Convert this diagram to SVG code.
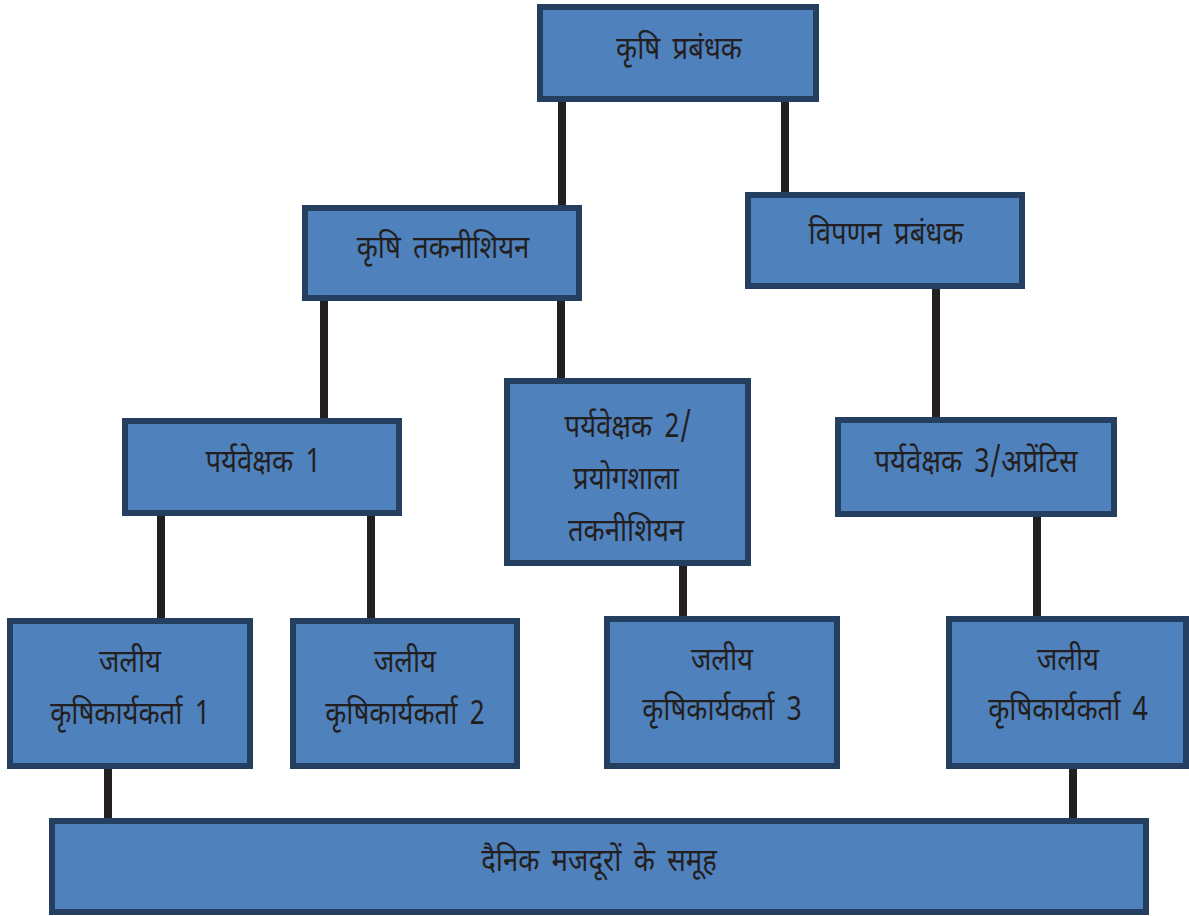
<svg xmlns="http://www.w3.org/2000/svg" width="1189" height="916" viewBox="0 0 1189 916">
<style>
.box{fill:#4f81bd;stroke:#243f60;stroke-width:6}
.t{font-family:"Noto Sans Devanagari","Noto Sans","Lohit Devanagari",sans-serif;font-size:32px;fill:#231f20;text-anchor:middle;word-spacing:6px}
.c{stroke:#231f20;stroke-width:8;fill:none}
</style>
<rect width="1189" height="916" fill="#ffffff"/>
<g id="connectors">
<line class="c" x1="562" y1="100" x2="562" y2="208"/>
<line class="c" x1="785" y1="100" x2="785" y2="195"/>
<line class="c" x1="324" y1="299" x2="324" y2="421"/>
<line class="c" x1="561" y1="299" x2="561" y2="381"/>
<line class="c" x1="936" y1="287" x2="936" y2="421"/>
<line class="c" x1="161" y1="514" x2="161" y2="621"/>
<line class="c" x1="371" y1="514" x2="371" y2="621"/>
<line class="c" x1="683" y1="563" x2="683" y2="619"/>
<line class="c" x1="1037" y1="515" x2="1037" y2="619"/>
<line class="c" x1="108" y1="766" x2="108" y2="821"/>
<line class="c" x1="1073" y1="766" x2="1073" y2="821"/>
</g>
<g id="n1"><rect class="box" x="540" y="7" width="276" height="92"/><text class="t" transform="translate(679 59) scale(0.86 1)">कृषि प्रबंधक</text></g>
<g id="n2"><rect class="box" x="305" y="208" width="274" height="90"/><text class="t" transform="translate(443 258) scale(0.86 1)">कृषि तकनीशियन</text></g>
<g id="n3"><rect class="box" x="748" y="195" width="274" height="91"/><text class="t" transform="translate(886 244) scale(0.86 1)">विपणन प्रबंधक</text></g>
<g id="n4"><rect class="box" x="125" y="421" width="274" height="92"/><text class="t" transform="translate(263 472) scale(0.86 1)">पर्यवेक्षक 1</text></g>
<g id="n5"><rect class="box" x="507" y="381" width="241" height="182"/><text class="t" transform="translate(628 437) scale(0.86 1)">पर्यवेक्षक 2/</text><text class="t" transform="translate(626 489) scale(0.86 1)">प्रयोगशाला</text><text class="t" transform="translate(626 541) scale(0.86 1)">तकनीशियन</text></g>
<g id="n6"><rect class="box" x="838" y="420" width="276" height="94"/><text class="t" transform="translate(976 472) scale(0.86 1)">पर्यवेक्षक 3/अप्रेंटिस</text></g>
<g id="n7"><rect class="box" x="10" y="621" width="240" height="145"/><text class="t" transform="translate(130 672) scale(0.86 1)">जलीय</text><text class="t" transform="translate(130 724) scale(0.86 1)">कृषिकार्यकर्ता 1</text></g>
<g id="n8"><rect class="box" x="293" y="621" width="224" height="145"/><text class="t" transform="translate(405 672) scale(0.86 1)">जलीय</text><text class="t" transform="translate(405 724) scale(0.86 1)">कृषिकार्यकर्ता 2</text></g>
<g id="n9"><rect class="box" x="607" y="619" width="230" height="147"/><text class="t" transform="translate(722 670) scale(0.86 1)">जलीय</text><text class="t" transform="translate(722 720) scale(0.86 1)">कृषिकार्यकर्ता 3</text></g>
<g id="n10"><rect class="box" x="949" y="619" width="237" height="147"/><text class="t" transform="translate(1068 670) scale(0.86 1)">जलीय</text><text class="t" transform="translate(1068 720) scale(0.86 1)">कृषिकार्यकर्ता 4</text></g>
<g id="n11"><rect class="box" x="52" y="821" width="1094" height="91"/><text class="t" transform="translate(599 871) scale(0.86 1)">दैनिक मजदूरों के समूह</text></g>
</svg>
